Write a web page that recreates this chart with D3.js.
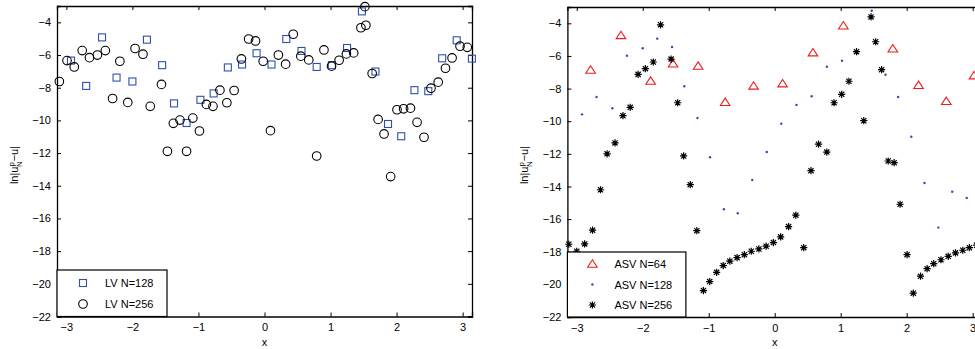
<!DOCTYPE html>
<html>
<head>
<meta charset="utf-8">
<script src="https://cdn.jsdelivr.net/npm/d3@7"></script>
<style>
  body { margin: 0; background: #fff; }
  text { font-family: "Liberation Sans", Arial, sans-serif; }
</style>
</head>
<body>
<div id="chart"></div>
<script>
// ---- data ----
var xTicks = [-3, -2, -1, 0, 1, 2, 3];
var yTicks = [-22, -20, -18, -16, -14, -12, -10, -8, -6, -4];

// left panel: LV
var lvX128 = [-2.93,-2.70,-2.46,-2.24,-2.00,-1.78,-1.55,-1.37,-1.18,-0.97,-0.77,-0.555,-0.34,-0.12,0.106,0.33,0.56,0.79,1.02,1.25,1.475,1.68,1.87,2.07,2.27,2.48,2.69,2.91,3.14];
var lvY128 = [-6.34,-7.89,-4.92,-7.38,-7.62,-5.06,-6.62,-8.96,-10.16,-8.74,-8.35,-6.76,-6.58,-5.89,-6.58,-5.02,-5.75,-6.73,-6.62,-5.57,-3.33,-7.01,-10.22,-10.97,-8.15,-8.21,-6.2,-5.1,-6.22];
var lvX256 = [-3.106,-2.99,-2.88,-2.76,-2.65,-2.53,-2.41,-2.30,-2.19,-2.07,-1.96,-1.84,-1.73,-1.56,-1.47,-1.38,-1.28,-1.18,-1.085,-0.985,-0.88,-0.78,-0.675,-0.57,-0.46,-0.35,-0.24,-0.136,-0.02,0.09,0.21,0.32,0.435,0.55,0.67,0.79,0.90,1.015,1.13,1.24,1.35,1.46,1.52,1.535,1.63,1.72,1.81,1.91,2.006,2.106,2.21,2.31,2.415,2.52,2.63,2.74,2.84,2.96,3.07];
var lvY256 = [-7.62,-6.34,-6.73,-5.73,-6.16,-6.0,-5.73,-8.66,-6.38,-8.9,-5.6,-5.95,-9.14,-7.8,-11.89,-10.18,-9.98,-11.89,-9.86,-10.65,-9.02,-9.14,-8.15,-8.92,-8.17,-6.24,-5.02,-5.14,-6.38,-10.63,-6.0,-6.56,-4.73,-6.07,-6.3,-12.18,-5.69,-6.68,-6.32,-5.93,-5.87,-4.33,-3.04,-4.18,-7.13,-9.94,-10.83,-13.44,-9.35,-9.29,-9.25,-10.12,-11.03,-8.03,-7.66,-6.81,-6.18,-5.46,-5.53];

// right panel: ASV
var asvX64 = [-2.79,-2.33,-1.88,-1.54,-1.16,-0.75,-0.32,0.12,0.58,1.04,1.79,2.18,2.6,3.02];
var asvY64 = [-6.86,-4.74,-7.54,-6.48,-6.62,-8.84,-7.84,-7.70,-5.8,-4.15,-5.56,-7.8,-8.78,-7.21];
var asvX128 = [-2.92,-2.70,-2.46,-2.24,-2.0,-1.78,-1.556,-1.37,-1.17,-0.98,-0.77,-0.56,-0.34,-0.12,0.10,0.33,0.56,0.79,1.02,1.25,1.47,1.68,1.87,2.07,2.27,2.48,2.69,2.91];
var asvY128 = [-9.58,-8.52,-9.21,-5.99,-5.53,-4.94,-5.45,-7.86,-9.80,-12.21,-15.40,-15.64,-13.6,-11.89,-10.15,-9.0,-8.47,-6.66,-6.29,-5.84,-3.23,-7.15,-8.52,-10.95,-13.79,-16.52,-14.32,-14.7];
var asvX256 = [-3.12,-3.0,-2.88,-2.76,-2.64,-2.54,-2.42,-2.30,-2.19,-2.07,-1.96,-1.84,-1.73,-1.57,-1.47,-1.38,-1.28,-1.18,-1.08,-0.985,-0.88,-0.78,-0.68,-0.57,-0.46,-0.355,-0.24,-0.13,-0.02,0.09,0.21,0.32,0.44,0.55,0.665,0.79,0.9,1.015,1.125,1.24,1.35,1.46,1.53,1.62,1.72,1.81,1.90,2.006,2.10,2.21,2.31,2.41,2.52,2.63,2.74,2.85,2.95,3.06];
var asvY256 = [-17.54,-17.97,-17.52,-16.68,-14.2,-12.0,-11.33,-9.66,-9.15,-7.13,-6.78,-6.37,-4.09,-6.19,-8.87,-12.13,-13.89,-16.71,-20.38,-19.83,-19.26,-18.85,-18.58,-18.36,-18.18,-17.97,-17.83,-17.66,-17.44,-17.09,-16.46,-15.76,-17.75,-13.03,-11.41,-11.89,-8.87,-8.35,-7.55,-5.74,-9.97,-3.61,-5.13,-6.84,-12.44,-12.54,-15.09,-18.18,-20.54,-19.5,-19.04,-18.73,-18.49,-18.28,-18.07,-17.91,-17.75,-17.6];

var lvLabels = ['LV N=128', 'LV N=256'];
var asvLabels = ['ASV N=64', 'ASV N=128', 'ASV N=256'];

var BLUE = '#2f4fb0', RED = '#ee1c1c';

var svg = d3.select('#chart').append('svg')
    .attr('width', 975)
    .attr('height', 349);

// marker painters
function square(g, x, y) {
  g.append('rect').attr('x', x - 3.5).attr('y', y - 3.5).attr('width', 7).attr('height', 7)
    .style('fill', 'none').style('stroke', BLUE).style('stroke-width', 1.1);
}
function circle(g, x, y) {
  g.append('circle').attr('cx', x).attr('cy', y).attr('r', 4.3)
    .style('fill', 'none').style('stroke', '#000').style('stroke-width', 1.1);
}
function triangle(g, x, y) {
  g.append('path').attr('d', 'M' + x + ',' + (y - 4.2) + 'L' + (x + 4.8) + ',' + (y + 3.2) + 'L' + (x - 4.8) + ',' + (y + 3.2) + 'Z')
    .style('fill', 'none').style('stroke', RED).style('stroke-width', 1.1);
}
function dot(g, x, y) {
  g.append('circle').attr('cx', x).attr('cy', y).attr('r', 1.2).style('fill', BLUE);
}
function star(g, x, y) {
  var r = 3.6, d = r * 0.72, p = '';
  p += 'M' + (x - r) + ',' + y + 'L' + (x + r) + ',' + y;
  p += 'M' + x + ',' + (y - r) + 'L' + x + ',' + (y + r);
  p += 'M' + (x - d) + ',' + (y - d) + 'L' + (x + d) + ',' + (y + d);
  p += 'M' + (x - d) + ',' + (y + d) + 'L' + (x + d) + ',' + (y - d);
  g.append('path').attr('d', p).style('fill', 'none').style('stroke', '#000').style('stroke-width', 1.2);
}

function drawPanel(cfg) {
  var x = d3.scaleLinear().domain([-Math.PI, Math.PI]).range([cfg.left, cfg.left + cfg.width]);
  var y = d3.scaleLinear().domain([-22, -3]).range([cfg.bottom, cfg.top]);
  var g = svg.append('g');

  // axes with inward ticks, Matlab look
  var fmt = d3.format('d');
  g.append('g').attr('transform', 'translate(0,' + cfg.bottom + ')')
    .call(d3.axisBottom(x).tickValues(xTicks).tickFormat(fmt).tickSize(-4).tickPadding(7));
  g.append('g').attr('transform', 'translate(0,' + cfg.top + ')')
    .call(d3.axisTop(x).tickValues(xTicks).tickFormat('').tickSize(-4));
  g.append('g').attr('transform', 'translate(' + cfg.left + ',0)')
    .call(d3.axisLeft(y).tickValues(yTicks).tickFormat(fmt).tickSize(-4).tickPadding(6));
  g.append('g').attr('transform', 'translate(' + (cfg.left + cfg.width) + ',0)')
    .call(d3.axisRight(y).tickValues(yTicks).tickFormat('').tickSize(-4));
  g.selectAll('.domain').style('stroke', '#000').style('stroke-width', 1.3);
  g.selectAll('.tick line').style('stroke', '#000');
  g.selectAll('.tick text').style('font-size', '11px').style('fill', '#000')
    .style('font-family', '"Liberation Sans", Arial, sans-serif');

  // labels
  g.append('text').attr('x', x(0)).attr('y', 346).attr('text-anchor', 'middle')
    .style('font-size', '11px').text('x');
  var yl = g.append('text').attr('transform', 'translate(' + cfg.ylabX + ',165) rotate(-90)')
    .attr('text-anchor', 'middle').style('font-size', '11px');
  yl.append('tspan').text('ln|u');
  yl.append('tspan').attr('dy', -4).style('font-size', '8px').text('p');
  yl.append('tspan').attr('dx', -5).attr('dy', 8).style('font-size', '8px').text('N');
  yl.append('tspan').attr('dy', -4).text('\u2212u|');

  // points
  cfg.series.forEach(function(s) {
    s.xs.forEach(function(v, i) { s.mark(g, x(v), y(s.ys[i])); });
  });

  // legend
  var lg = g.append('g');
  lg.append('rect').attr('x', cfg.left).attr('y', cfg.legTop)
    .attr('width', cfg.legW).attr('height', cfg.bottom - cfg.legTop)
    .style('fill', '#fff').style('stroke', '#000').style('stroke-width', 1.2);
  cfg.series.forEach(function(s, i) {
    var cy = cfg.legTop + cfg.legRow0 + i * cfg.legStep;
    s.mark(lg, cfg.left + cfg.legMarkX, cy);
    lg.append('text').attr('x', cfg.left + cfg.legTextX).attr('y', cy + 4)
      .style('font-size', '11px').text(s.label);
  });
}

drawPanel({
  left: 57, width: 415, top: 6, bottom: 316.5, ylabX: 18,
  legTop: 270, legW: 110, legRow0: 13, legStep: 21, legMarkX: 26, legTextX: 48,
  series: [
    { xs: lvX128, ys: lvY128, mark: square, label: lvLabels[0] },
    { xs: lvX256, ys: lvY256, mark: circle, label: lvLabels[1] }
  ]
});

drawPanel({
  left: 567.4, width: 414.6, top: 7, bottom: 317, ylabX: 528,
  legTop: 252, legW: 118.5, legRow0: 12, legStep: 20.5, legMarkX: 25, legTextX: 47,
  series: [
    { xs: asvX64, ys: asvY64, mark: triangle, label: asvLabels[0] },
    { xs: asvX128, ys: asvY128, mark: dot, label: asvLabels[1] },
    { xs: asvX256, ys: asvY256, mark: star, label: asvLabels[2] }
  ]
});
</script>
</body>
</html>
